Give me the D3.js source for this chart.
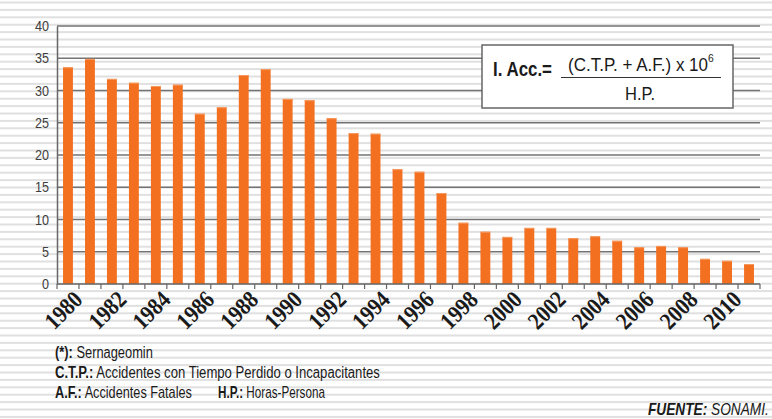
<!DOCTYPE html>
<html>
<head>
<meta charset="utf-8">
<script src="https://cdn.jsdelivr.net/npm/d3@7"></script>
<style>
  body { margin: 0; background: #fff; }
  svg { display: block; }
</style>
</head>
<body>
<div id="chart"></div>
<script>
// Indice de accidentabilidad por año (lectura del gráfico)
const years = d3.range(1980, 2012);
const values = [33.6, 34.9, 31.8, 31.2, 30.7, 30.9, 26.4, 27.4, 32.4, 33.3,
                28.7, 28.5, 25.7, 23.4, 23.3, 17.8, 17.4, 14.1, 9.5, 8.1,
                7.3, 8.7, 8.7, 7.1, 7.4, 6.7, 5.7, 5.9, 5.7, 3.9, 3.6, 3.1];
const yTicks = [0, 5, 10, 15, 20, 25, 30, 35, 40];
const xLabels = [1980, 1982, 1984, 1986, 1988, 1990, 1992, 1994, 1996, 1998,
                 2000, 2002, 2004, 2006, 2008, 2010];

const width = 772, height = 419;
const margin = { top: 26, right: 12, bottom: 135, left: 57 };
const sans = '"Liberation Sans", Arial, sans-serif';
const serif = '"Liberation Serif", serif';

const svg = d3.select('#chart').append('svg')
    .attr('width', width)
    .attr('height', height);

// texto condensado: se escala en x hasta el ancho medido en la imagen
function label(parent, x, y, parts, len, opts = {}) {
    const g = parent.append('g');
    const t = g.append('text')
        .attr('font-family', opts.family || sans)
        .attr('font-size', opts.size || 15)
        .attr('font-style', opts.italic ? 'italic' : 'normal')
        .attr('fill', opts.fill || '#1a1a1a')
        .style('white-space', 'pre');
    (typeof parts === 'string' ? [{ text: parts, bold: opts.bold }] : parts).forEach(p => {
        const s = t.append('tspan')
            .attr('font-weight', p.bold ? 'bold' : 'normal')
            .text(p.text);
        if (p.sup) s.attr('font-size', p.sup).attr('dy', -9);
    });
    const natural = t.node().getComputedTextLength();
    const sx = len / natural;
    const dx = opts.anchor === 'end' ? -len : 0;
    const rot = opts.rotate ? ` rotate(${opts.rotate})` : '';
    g.attr('transform', `translate(${x},${y})${rot} translate(${dx},0) scale(${sx},1)`);
    return g;
}

// Fondo rayado
svg.append('g').selectAll('rect')
    .data(d3.range(1.5, height, 7.4))
    .join('rect')
    .attr('x', 0).attr('y', d => d)
    .attr('width', width).attr('height', 2)
    .attr('fill', '#e0e0e0');

const x = d3.scaleBand()
    .domain(years)
    .range([margin.left, width - margin.right])
    .paddingInner(0.55)
    .paddingOuter(0.275);

const y = d3.scaleLinear()
    .domain([0, 40])
    .range([height - margin.bottom, margin.top]);

// Grilla
svg.append('g').selectAll('line')
    .data(yTicks.filter(d => d > 0))
    .join('line')
    .attr('x1', margin.left).attr('x2', width - margin.right)
    .attr('y1', d => y(d)).attr('y2', d => y(d))
    .attr('stroke', '#737373')
    .attr('stroke-width', 1.5);

// Barras
const bars = svg.append('g');
bars.selectAll('rect.bar')
    .data(years)
    .join('rect')
    .attr('class', 'bar')
    .attr('x', d => x(d))
    .attr('y', (d, i) => y(values[i]))
    .attr('width', x.bandwidth())
    .attr('height', (d, i) => y(0) - y(values[i]))
    .attr('fill', '#f37021');
bars.selectAll('rect.top')
    .data(years)
    .join('rect')
    .attr('class', 'top')
    .attr('x', d => x(d))
    .attr('y', (d, i) => y(values[i]))
    .attr('width', x.bandwidth())
    .attr('height', 1)
    .attr('fill', '#f59a60');

// Eje Y
const yAxis = svg.append('g')
    .attr('transform', `translate(${margin.left},0)`)
    .call(d3.axisLeft(y).tickValues(yTicks).tickSize(0).tickPadding(8));
yAxis.select('.domain').attr('stroke', '#666').attr('stroke-width', 1.5);
yAxis.selectAll('.tick text').remove();
yTicks.forEach(v => {
    label(svg, margin.left - 8, y(v) + 5, String(v), String(v).length * 7,
        { anchor: 'end', fill: '#404040' });
});

// Eje X con marcas entre barras
const step = x.step();
const bounds = d3.range(0, years.length + 1).map(i => margin.left + i * step);
const xg = svg.append('g');
xg.append('line')
    .attr('x1', margin.left).attr('x2', width - margin.right)
    .attr('y1', y(0)).attr('y2', y(0))
    .attr('stroke', '#666').attr('stroke-width', 1.5);
xg.selectAll('line.tick')
    .data(bounds)
    .join('line')
    .attr('class', 'tick')
    .attr('x1', d => d).attr('x2', d => d)
    .attr('y1', y(0)).attr('y2', y(0) + 5)
    .attr('stroke', '#666').attr('stroke-width', 1.2);

// etiquetas de años a -45°
xLabels.forEach(d => {
    label(xg, x(d) + x.bandwidth() / 2 + 16, y(0) + 17, [{ text: String(d), bold: true }], 42,
        { family: serif, size: 24, anchor: 'end', rotate: -45 });
});

// Fórmula
const box = svg.append('g');
box.append('rect')
    .attr('x', 482).attr('y', 45)
    .attr('width', 251).attr('height', 63)
    .attr('fill', '#fff')
    .attr('stroke', '#666').attr('stroke-width', 1.5);
label(box, 493, 76, 'I. Acc.=', 59, { bold: true, size: 21 });
label(box, 568, 71, [{ text: '(C.T.P. + A.F.) x 10' }, { text: '6', sup: 11 }], 146, { size: 18 });
box.append('line')
    .attr('x1', 561).attr('x2', 721)
    .attr('y1', 77.5).attr('y2', 77.5)
    .attr('stroke', '#333').attr('stroke-width', 1.2);
label(box, 625, 100, 'H.P.', 30, { size: 18 });

// Notas
const notes = svg.append('g');
label(notes, 55, 358, [{ text: '(*):', bold: true }, { text: ' Sernageomin' }], 98, { size: 16 });
label(notes, 55, 378, [{ text: 'C.T.P.:', bold: true },
    { text: ' Accidentes con Tiempo Perdido o Incapacitantes' }], 325, { size: 16 });
label(notes, 55, 398, [{ text: 'A.F.:', bold: true }, { text: ' Accidentes Fatales' }], 137, { size: 16 });
label(notes, 218, 398, [{ text: 'H.P.:', bold: true }, { text: ' Horas-Persona' }], 107, { size: 16 });

// Fuente
label(svg, 769, 415, [{ text: 'FUENTE:', bold: true }, { text: ' SONAMI.' }], 121,
    { italic: true, anchor: 'end', size: 16 });
</script>
</body>
</html>
